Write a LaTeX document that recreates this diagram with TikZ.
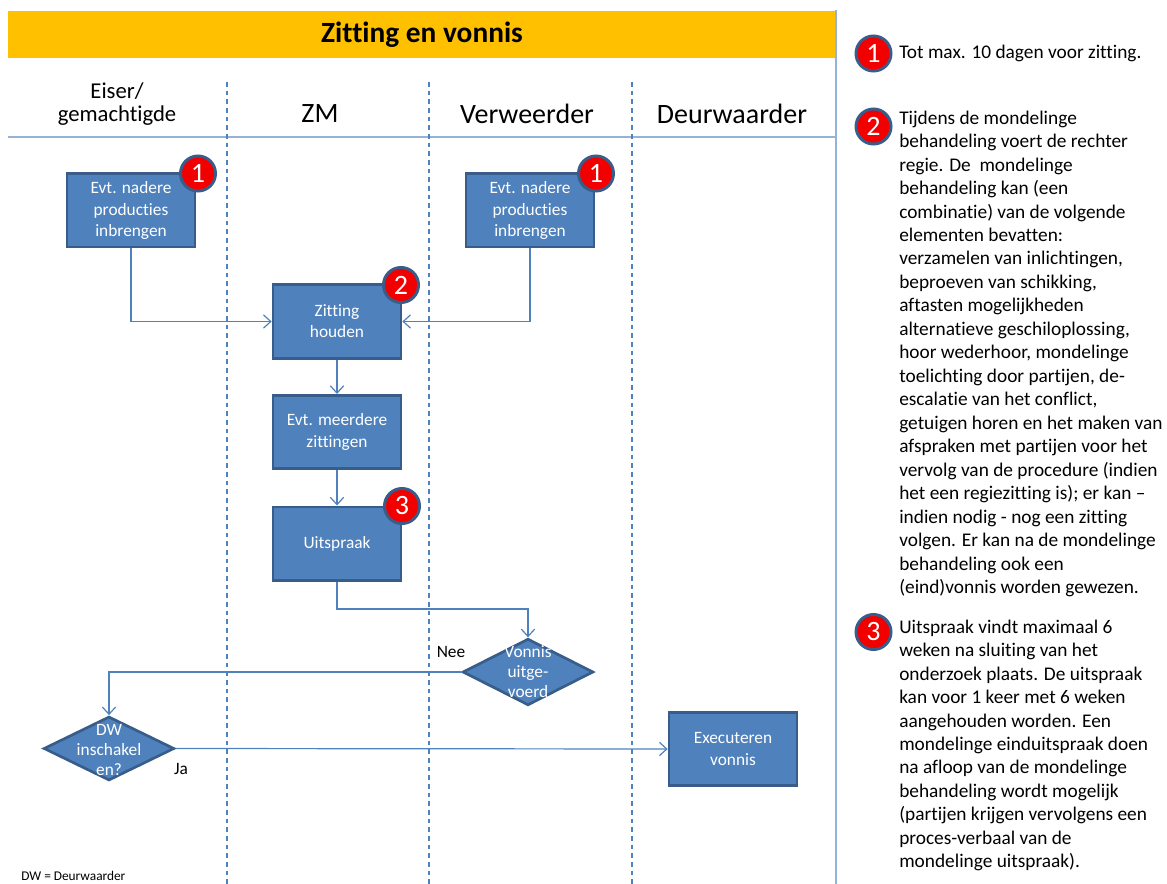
\documentclass[tikz,border=0pt]{standalone}
\usepackage{fontspec}
\setmainfont{Carlito}[Ligatures=NoCommon]
\usetikzlibrary{arrows.meta,shapes.geometric}
\definecolor{boxfill}{HTML}{4F81BD}
\definecolor{boxdraw}{HTML}{385D8A}
\definecolor{hdr}{HTML}{FFC000}
\definecolor{sepcol}{HTML}{95B3D7}
\definecolor{badgered}{HTML}{F20000}
\begin{document}
\begin{tikzpicture}[x=0.75pt,y=-0.75pt,
  procbox/.style={draw=boxdraw, fill=boxfill, line width=2pt, minimum width=96pt, minimum height=55pt,
    text=white, align=center, font=\fontsize{13}{15.8}\selectfont, inner sep=0pt},
  decision/.style={diamond, draw=boxdraw, fill=boxfill, line width=2pt, inner sep=0pt},
  dlabel/.style={text=white, align=center, font=\fontsize{13}{15}\selectfont, inner sep=0pt},
  badge/.style={circle, draw=boxdraw, fill=badgered, line width=2.2pt, minimum size=26.3pt, inner sep=0pt,
    text=white, font=\fontsize{21}{21}\selectfont},
  conn/.style={draw=boxfill, line width=0.9pt, -{Straight Barb[length=5.5pt,width=10pt]}},
  lane/.style={draw=boxfill, line width=1pt, dash pattern=on 3.5pt off 3pt},
  sepline/.style={draw=sepcol, line width=1.2pt},
  lanehead/.style={font=\fontsize{21}{25}\selectfont, align=center, inner sep=0pt},
  note/.style={font=\fontsize{14.5}{17.6}\selectfont, align=left, anchor=north west, inner sep=0pt},
  small/.style={font=\fontsize{13}{15}\selectfont, inner sep=0pt}
]
\useasboundingbox (0,0) rectangle (1167,884);
% header
\fill[hdr] (8,11) rectangle (836,58);
\node[font=\bfseries\fontsize{22}{26}\selectfont, inner sep=0pt] (title) at (422,35) {Zitting en vonnis};
% separators
\draw[sepline] (8,137) -- (836,137);
\draw[sepline] (836,10) -- (836,884);
% lanes
\draw[lane] (227,82) -- (227,884);
\draw[lane] (429,82) -- (429,884);
\draw[lane] (632,82) -- (632,884);
% lane headers
\node[lanehead, font=\fontsize{17}{17.5}\selectfont] (h1) at (117,104) {Eiser/\\gemachtigde};
\node[lanehead] (h2) at (320,114) {ZM};
\node[lanehead] (h3) at (527,114) {Verweerder};
\node[lanehead] (h4) at (732,114) {Deurwaarder};
% boxes
\node[procbox] (A) at (131,210.5) {Evt. nadere\\producties\\inbrengen};
\node[procbox] (B) at (530,210.5) {Evt. nadere\\producties\\inbrengen};
\node[procbox] (Z) at (337,321.5) {Zitting\\houden};
\node[procbox] (M) at (337,432) {Evt. meerdere\\zittingen};
\node[procbox] (U) at (337,543.5) {Uitspraak};
\node[procbox] (E) at (733,749) {Executeren\\vonnis};
\node[decision, minimum width=98pt, minimum height=50pt] (V) at (528,672) {};
\node[dlabel] (Vt) at (528,672) {Vonnis\\uitge-\\voerd};
\node[decision, minimum width=98pt, minimum height=48pt] (D) at (109,748.5) {};
\node[dlabel] (Dt) at (109,750) {DW\\inschakel\\en?};
% badges
\node[badge] (b1) at (198,173.5) {1};
\node[badge] (b2) at (596,173.5) {1};
\node[badge] (b3) at (401,285) {2};
\node[badge] (b4) at (402,506) {3};
% connectors
\draw[conn] (A.south) |- (Z.west);
\draw[conn] (B.south) |- (Z.east);
\draw[conn] (Z) -- (M);
\draw[conn] (M) -- (U);
\coordinate (u1) at (337,609);
\draw[conn] (U.south) -- (u1) -| (V.north);
\draw[conn] (V.west) -| (D.north);
\draw[conn] (D.east) -- (E.west);
\node[small] (nee) at (451,652) {Nee};
\node[small] (ja) at (181,769) {Ja};
\node[font=\fontsize{10}{12}\selectfont, anchor=west, inner sep=0pt] (dwnote) at (21,876) {DW = Deurwaarder};
% right notes
\node[badge] (r1) at (873.5,53.5) {1};
\node[badge] (r2) at (873.5,126.5) {2};
\node[badge] (r3) at (873.5,632) {3};
\node[note, anchor=base west] (t1) at (899,59) {Tot max. 10 dagen voor zitting.};
\node[note] (t2) at (899,110.5) {Tijdens de mondelinge\\
behandeling voert de rechter\\
regie. De\ \ mondelinge\\
behandeling kan (een\\
combinatie) van de volgende\\
elementen bevatten:\\
verzamelen van inlichtingen,\\
beproeven van schikking,\\
aftasten mogelijkheden\\
alternatieve geschiloplossing,\\
hoor wederhoor, mondelinge\\
toelichting door partijen, de-\\
escalatie van het conflict,\\
getuigen horen en het maken van\\
afspraken met partijen voor het\\
vervolg van de procedure (indien\\
het een regiezitting is); er kan –\\
indien nodig - nog een zitting\\
volgen. Er kan na de mondelinge\\
behandeling ook een\\
(eind)vonnis worden gewezen.};
\node[note] (t3) at (899,619.5) {Uitspraak vindt maximaal 6\\
weken na sluiting van het\\
onderzoek plaats. De uitspraak\\
kan voor 1 keer met 6 weken\\
aangehouden worden. Een\\
mondelinge einduitspraak doen\\
na afloop van de mondelinge\\
behandeling wordt mogelijk\\
(partijen krijgen vervolgens een\\
proces-verbaal van de\\
mondelinge uitspraak).};
\end{tikzpicture}
\end{document}
